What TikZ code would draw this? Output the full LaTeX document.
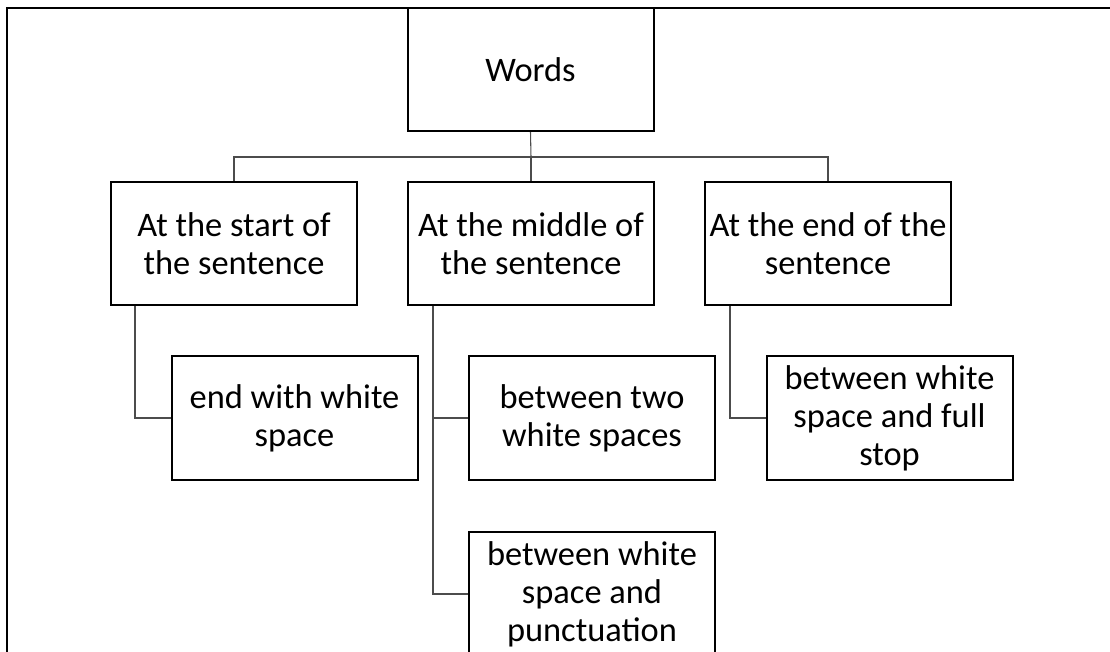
\documentclass[tikz,border=0pt]{standalone}
\usepackage{fontspec}
\setmainfont{Carlito}
\begin{document}
\begin{tikzpicture}[x=0.75pt,y=-0.75pt,
  box/.style={draw=black,line width=1.5pt,rectangle,inner sep=0pt,
    minimum width=184.5pt,minimum height=92.5pt,align=center,
    font=\fontsize{25.8}{28.5}\selectfont},
  conn/.style={draw=black!70,line width=0.8pt},
  frame/.style={draw=black,line width=1.9pt}]
\useasboundingbox (0,0) rectangle (1110,652);
\draw[frame] (7,652) -- (7,8) -- (1110,8);
\node[box] (words) at (530.5,69.5) {Words};
\node[box] (a) at (234,243.5) {At the start of\\the sentence};
\node[box] (b) at (531,243.5) {At the middle of\\the sentence};
\node[box] (c) at (828,243.5) {At the end of the\\sentence};
\node[box] (a1) at (294.5,418) {end with white\\space};
\node[box] (b1) at (592,418) {between two\\white spaces};
\node[box] (b2) at (592,594) {between white\\space and\\punctuation};
\node[box] (c1) at (889.5,418) {between white\\space and full\\stop};
\coordinate (bus) at (531,157);
\draw[conn] (words.south) -- (bus);
\draw[conn] (a.north) |- (bus) -| (c.north);
\draw[conn] (bus) -- (b.north);
\draw[conn] (a.south west) ++(25,0) |- (a1.west);
\draw[conn] (b.south west) ++(26,0) |- (b2.west);
\draw[conn] (b.south west) ++(26,0) |- (b1.west);
\draw[conn] (c.south west) ++(26,0) |- (c1.west);
\end{tikzpicture}
\end{document}
